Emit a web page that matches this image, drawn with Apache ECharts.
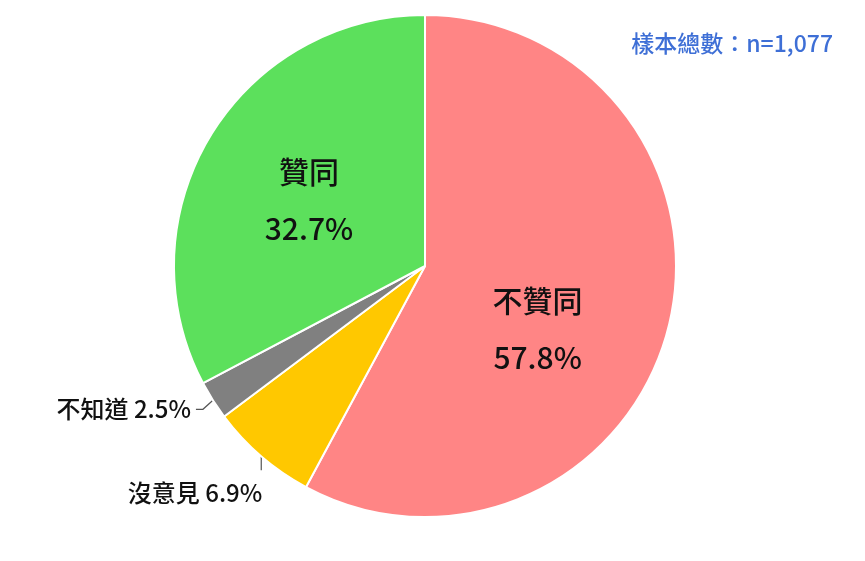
<!DOCTYPE html>
<html>
<head>
<meta charset="utf-8">
<script src="https://cdn.jsdelivr.net/npm/echarts@6/dist/echarts.min.js"></script>
<style>
  html, body { margin: 0; padding: 0; background: #fff; }
  #chart { width: 865px; height: 561px; }
</style>
</head>
<body>
<div id="chart"></div>
<script>
// 圖表資料
var categories = ['不贊同', '沒意見', '不知道', '贊同']
var values = [57.8, 6.9, 2.5, 32.7]
var colors = ['#FF8585', '#FFC800', '#808080', '#5CE05C']
var insideNames = ['不贊同', '贊同']
var sampleText = '樣本總數：n=1,077'

var FONT = '"Noto Sans CJK TC", "Noto Sans", sans-serif'

var seriesData = categories.map(function(name, i) {
  var inside = insideNames.indexOf(name) >= 0
  return {
    name: name,
    value: values[i],
    itemStyle: { color: colors[i] },
    label: inside
      ? {
          position: 'inside',
          formatter: '{n|{b}}\n{p|{c}%}',
          rich: {
            n: { fontSize: 30, fontFamily: FONT, fontWeight: 500, color: '#111', lineHeight: 57 },
            p: { fontSize: 30, fontFamily: FONT, fontWeight: 500, color: '#111', lineHeight: 57 }
          }
        }
      : {
          position: 'outside',
          formatter: '{b} {c}%',
          fontSize: 24,
          fontFamily: FONT,
          fontWeight: 500,
          color: '#111'
        },
    labelLine: { show: !inside, lineStyle: { color: '#555', width: 1.2 } }
  }
})

var chart = echarts.init(document.getElementById('chart'))
chart.setOption({
  animation: false,
  title: {
    text: sampleText,
    right: 27,
    top: 27,
    textStyle: { fontSize: 23, fontFamily: FONT, color: '#3E6FD6', fontWeight: 500 }
  },
  series: [
    {
      type: 'pie',
      center: [425, 266],
      radius: [0, 251],
      startAngle: 90,
      clockwise: true,
      itemStyle: { borderColor: '#fff', borderWidth: 2 },
      data: seriesData,
      labelLayout: function(params) {
        var i = params.dataIndex
        var p = params.labelLinePoints
        if (i === 0) {
          return { dx: -12, dy: 32 }
        }
        if (i === 3) {
          return { dx: -6, dy: 0 }
        }
        if (!p) return {}
        var x0 = p[0][0], y0 = p[0][1]
        if (i === 1) {
          return {
            x: x0 + 1, y: y0 + 37, align: 'right', verticalAlign: 'middle',
            labelLinePoints: [[x0, y0], [x0, y0 + 14], [x0, y0 + 14]]
          }
        }
        return {
          x: x0 - 22, y: y0 + 9, align: 'right', verticalAlign: 'middle',
          labelLinePoints: [[x0, y0], [x0 - 10, y0 + 9], [x0 - 17, y0 + 9]]
        }
      }
    }
  ]
})
window.addEventListener('resize', function() {
  chart.resize()
})
</script>
</body>
</html>
